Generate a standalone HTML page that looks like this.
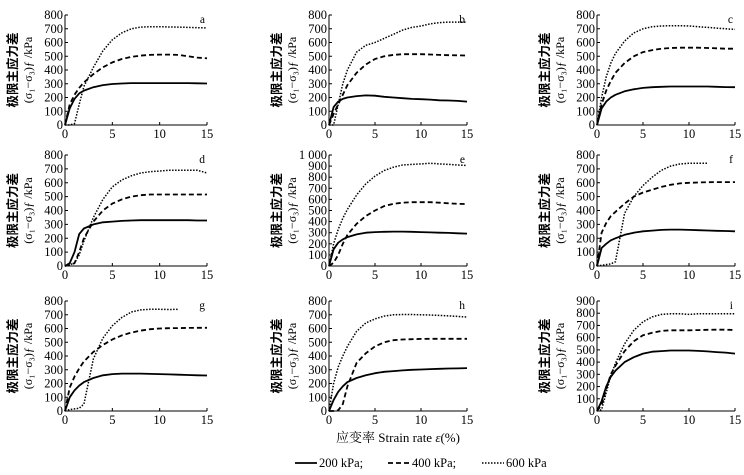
<!DOCTYPE html>
<html><head><meta charset="utf-8">
<style>
html,body{margin:0;padding:0;background:#fff;}
svg{display:block;font-family:"Liberation Serif","Noto Serif CJK SC",serif;}
</style></head>
<body>
<svg id="chart" width="744" height="475" viewBox="0 0 744 475" xmlns="http://www.w3.org/2000/svg"></svg>
<script>
const strainX = [0,0.5,1,1.5,2,3,4,5,6,7,8,9,10,11,12,13,14,15];
const panelLetters = ['a','b','c','d','e','f','g','h','i'];
const yMaxes = [800,800,800,800,1000,800,800,800,900];
const xTicks = [0,5,10,15];
const s200 = [
 [0,120,190,230,250,275,290,298,302,305,305,305,305,305,305,305,303,302],
 [0,130,170,190,200,210,215,213,205,200,195,190,188,185,180,178,175,170],
 [0,120,170,200,220,245,260,270,275,278,280,280,280,280,280,278,276,275],
 [0,20,100,230,270,300,315,320,325,328,330,330,330,330,330,330,328,328],
 [0,150,210,240,260,285,300,305,308,310,310,308,305,303,300,298,295,292],
 [0,130,160,185,200,225,240,250,255,260,262,262,260,258,256,254,252,250],
 [0,100,150,185,210,240,260,268,272,272,272,270,268,266,264,262,260,258],
 [0,80,140,180,210,240,260,275,285,290,295,300,302,305,307,309,310,312],
 [0,80,200,280,330,400,440,470,485,490,495,495,495,492,488,482,478,470]
];
const s400 = [
 [0,150,220,270,310,370,420,455,480,495,505,510,512,512,510,500,490,485],
 [0,80,150,220,290,380,440,480,500,510,515,515,515,513,510,508,507,505],
 [0,150,250,320,380,450,500,530,545,555,560,562,562,562,560,558,555,555],
 [0,10,20,100,200,320,400,450,480,500,510,515,515,515,515,515,515,515],
 [0,30,100,200,280,380,450,500,540,560,570,575,575,575,570,565,560,558],
 [0,240,310,360,390,450,500,530,550,570,585,595,600,602,604,605,605,605],
 [0,170,250,310,360,430,480,520,550,570,585,595,600,602,603,604,605,605],
 [0,0,5,50,180,350,420,470,500,515,520,522,524,525,525,525,525,525],
 [0,50,180,300,370,490,570,620,640,655,660,660,660,662,664,665,665,663]
];
const s600 = [
 [0,0,10,150,280,420,540,620,670,700,712,715,715,713,712,710,708,706],
 [0,0,150,300,400,530,580,600,630,660,690,710,720,735,745,748,748,748],
 [0,200,350,450,520,610,670,700,715,720,722,722,720,715,710,705,700,695],
 [0,10,20,80,180,350,480,570,620,650,670,680,685,690,690,690,690,670],
 [0,200,330,430,510,640,740,810,860,890,910,915,920,925,920,915,910,905],
 [0,5,10,15,30,380,500,580,640,690,720,735,740,740,740,null,null,null],
 [0,10,15,20,50,380,530,620,680,720,735,740,740,738,740,null,null,null],
 [0,200,320,400,470,580,640,670,690,700,702,702,700,698,695,692,688,683],
 [0,10,150,290,390,550,660,730,770,790,795,795,790,795,795,795,795,795]
];
const colX0=[65,329,597], colX1=[207,467,735];
const rowY0=[125,266,411], rowY1=[15,155,301];
const svg=document.getElementById('chart');
const NS='http://www.w3.org/2000/svg';
function mk(tag,attrs,parent){const e=document.createElementNS(NS,tag);for(const k in attrs)e.setAttribute(k,attrs[k]);(parent||svg).appendChild(e);return e;}
const styles=[{w:1.8,d:''},{w:1.8,d:'5,3'},{w:1.5,d:'1.5,1.5'}];
for(let p=0;p<9;p++){
  const c=p%3,r=Math.floor(p/3);
  const x0=colX0[c],x1=colX1[c],y0=rowY0[r],y1=rowY1[r],ym=yMaxes[p];
  const sx=v=>x0+(v/15)*(x1-x0);
  const sy=v=>y0-(v/ym)*(y0-y1);
  const g=mk('g',{});
  
  
  const ax=mk('path',{d:`M${x0},${y1} L${x0},${y0} L${x1},${y0}`,stroke:'#000','stroke-width':1,fill:'none'},g);
  
  
  for(let v=0;v<=ym;v+=100){
    const y=sy(v);
    mk('line',{x1:x0,x2:x0+3,y1:y,y2:y,stroke:'#000','stroke-width':1},g);
    const t=mk('text',{x:x0-2,y:y+4,'font-size':12.5,'text-anchor':'end'},g);
    t.textContent=(v===1000?'1 000':String(v));
    
    
  }
  xTicks.forEach(v=>{
    const x=sx(v);
    mk('line',{x1:x,x2:x,y1:y0,y2:y0-3,stroke:'#000','stroke-width':1},g);
    const t=mk('text',{x:x,y:y0+13,'font-size':12.5,'text-anchor':'middle'},g);
    t.textContent=String(v);
    
    
  });
  const lt=mk('text',{x:x1-2,y:y1+8,'font-size':11.5,'text-anchor':'end'},g);
  lt.textContent=panelLetters[p];
  
  
  const cy=(y0+y1)/2;
  const lx=x0-48;
  const t1=mk('text',{x:lx,y:cy,'font-size':12.5,'font-weight':'bold','text-anchor':'middle',transform:`rotate(-90 ${lx} ${cy})`,'font-family':'"Noto Sans CJK SC",sans-serif'},g);
  t1.textContent='极限主应力差';
  
  
  const lx2=x0-33;
  const t2=mk('text',{x:lx2,y:cy,'font-size':12,'text-anchor':'middle',transform:`rotate(-90 ${lx2} ${cy})`},g);
  t2.textContent='(σ₁−σ₃)ƒ /kPa';
  
  
  [s200,s400,s600].forEach((ser,si)=>{
    let d='';let started=false;
    ser[p].forEach((v,i)=>{ if(v===null)return; d+=(started?'L':'M')+sx(strainX[i]).toFixed(1)+','+sy(v).toFixed(1)+' '; started=true;});
    const path=mk('path',{d:d,fill:'none',stroke:'#000','stroke-width':styles[si].w,'stroke-dasharray':styles[si].d,'stroke-linejoin':'round'},g);
    
    
  });
}
const xt=mk('text',{x:398,y:442,'font-size':13,'text-anchor':'middle'});
xt.innerHTML='<tspan font-family="Noto Serif CJK SC,serif">应变率</tspan> Strain rate <tspan font-style="italic">ε</tspan>(%)';


const lg=mk('g',{});


const legItems=[{x:295,t:'200 kPa;'},{x:388,t:'400 kPa;'},{x:482,t:'600 kPa'}];
legItems.forEach((it,i)=>{
  mk('line',{x1:it.x,x2:it.x+22,y1:463,y2:463,stroke:'#000','stroke-width':styles[i].w,'stroke-dasharray':styles[i].d},lg);
  const t=mk('text',{x:it.x+24,y:467,'font-size':12.5},lg);
  t.textContent=it.t;
  
  
});
</script>
</body></html>
